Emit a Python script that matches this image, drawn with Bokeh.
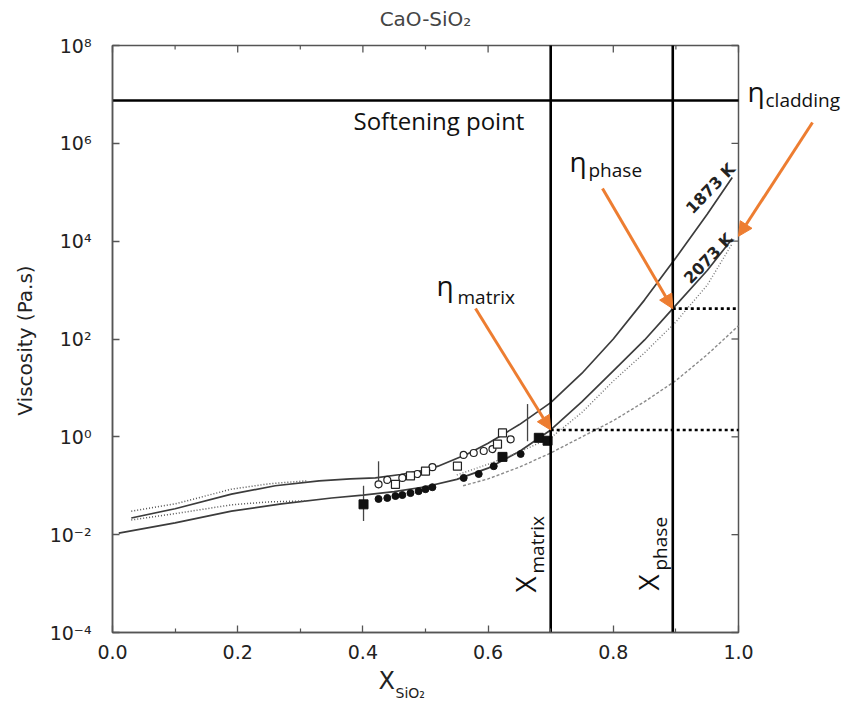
import math
from bokeh.plotting import figure
from bokeh.models import LinearAxis, LogAxis, FixedTicker, Label, Arrow, NormalHead, Range1d
from bokeh.embed import file_html
from bokeh.resources import INLINE

# ---------------- data ----------------
# model curves: x = mole fraction SiO2, values = log10(viscosity / Pa.s)
x_1873 = [0.03, 0.10, 0.19, 0.26, 0.33, 0.38, 0.42, 0.46, 0.50, 0.52, 0.567, 0.60, 0.65, 0.70, 0.75, 0.80, 0.85, 0.90, 0.95, 0.99]
lg_1873 = [-1.66, -1.47, -1.17, -1.00, -0.90, -0.86, -0.84, -0.77, -0.68, -0.60, -0.35, -0.13, 0.25, 0.70, 1.30, 2.00, 2.80, 3.66, 4.55, 5.30]

x_2073 = [0.01, 0.10, 0.19, 0.27, 0.35, 0.40, 0.45, 0.50, 0.55, 0.60, 0.65, 0.70, 0.75, 0.80, 0.85, 0.895, 0.95, 0.99]
lg_2073 = [-1.97, -1.76, -1.52, -1.37, -1.25, -1.19, -1.12, -1.02, -0.87, -0.64, -0.30, 0.14, 0.72, 1.35, 1.98, 2.62, 3.40, 4.05]

x_dot_a = [0.03, 0.10, 0.19, 0.25, 0.31]
lg_dot_a = [-1.52, -1.37, -1.07, -0.96, -0.90]

x_dot_b = [0.03, 0.10, 0.19, 0.25, 0.31]
lg_dot_b = [-1.70, -1.57, -1.39, -1.33, -1.31]

x_dot_c = [0.55, 0.60, 0.65, 0.70, 0.75, 0.80, 0.85, 0.90, 0.95, 0.99]
lg_dot_c = [-0.78, -0.56, -0.31, -0.02, 0.50, 1.14, 1.72, 2.35, 3.10, 3.95]

x_dash_d = [0.56, 0.60, 0.65, 0.70, 0.75, 0.80, 0.85, 0.90, 0.95, 1.00]
lg_dash_d = [-1.00, -0.86, -0.62, -0.33, 0.00, 0.33, 0.72, 1.15, 1.68, 2.27]

# measured points (log10 viscosity)
x_open_circ = [0.425, 0.439, 0.463, 0.487, 0.511, 0.561, 0.577, 0.593, 0.607, 0.636]
lg_open_circ = [-0.97, -0.88, -0.84, -0.76, -0.62, -0.37, -0.33, -0.29, -0.25, -0.05]
x_open_sq = [0.452, 0.476, 0.500, 0.551, 0.615, 0.623]
lg_open_sq = [-0.97, -0.80, -0.70, -0.60, -0.15, 0.08]
x_fill_circ = [0.425, 0.439, 0.452, 0.463, 0.476, 0.489, 0.500, 0.511, 0.561, 0.585, 0.609, 0.652]
lg_fill_circ = [-1.27, -1.25, -1.21, -1.19, -1.15, -1.11, -1.07, -1.03, -0.84, -0.76, -0.60, -0.35]
x_fill_sq = [0.401, 0.623, 0.681, 0.695]
lg_fill_sq = [-1.38, -0.41, -0.02, -0.08]
x_err = [0.401, 0.425, 0.663]
lg_err_lo = [-1.72, -1.05, -0.09]
lg_err_hi = [-1.00, -0.50, 0.67]

# reference lines / annotation targets
x_matrix = 0.70
x_phase = 0.895
eta_matrix = 1.38
eta_phase = 417.0
eta_softening = 7.5e6
eta_cladding = 1.26e4

x_ticks = [0.0, 0.2, 0.4, 0.6, 0.8, 1.0]
x_minor = [0.1, 0.3, 0.5, 0.7, 0.9]
x_tick_labels = ["0.0", "0.2", "0.4", "0.6", "0.8", "1.0"]
y_ticks = [1e-4, 1e-2, 1.0, 1e2, 1e4, 1e6, 1e8]
y_tick_labels = ["10\u207b\u2074", "10\u207b\u00b2", "10\u2070", "10\u00b2", "10\u2074", "10\u2076", "10\u2078"]


def pw(vals):
    return [10.0 ** v for v in vals]


# ---------------- layout (pixels) ----------------
W, H = 845, 702
BOX_L, BOX_R, BOX_T, BOX_B = 112, 738, 45, 632
X0, X1 = x_ticks[0], x_ticks[-1]
LG0, LG1 = math.log10(y_ticks[0]), math.log10(y_ticks[-1])
XPX = (BOX_R - BOX_L) / (X1 - X0)
DPX = (BOX_B - BOX_T) / (LG1 - LG0)


def at(px, py):
    """page pixel -> data coordinates (for annotations only)"""
    return X0 + (px - BOX_L) / XPX, 10 ** (LG1 - (py - BOX_T) / DPX)


ORANGE = "#ED7D31"
AX = "#555555"
TXT = "#222222"
SCAN_FONT = "DejaVu Sans"
ANN_FONT = "Open Sans"

p = figure(width=W, height=H, title=None,
           x_range=Range1d(X0 - BOX_L / XPX, X1 + (W - BOX_R) / XPX),
           y_range=Range1d(10 ** (LG0 - (H - BOX_B) / DPX), 10 ** (LG1 + BOX_T / DPX)),
           y_axis_type="log", output_backend="svg", toolbar_location=None,
           min_border=0, x_axis_location=None, y_axis_location=None)
p.xgrid.visible = False
p.ygrid.visible = False
p.outline_line_color = None
p.background_fill_color = "white"
p.border_fill_color = "white"

xb = LinearAxis(ticker=FixedTicker(ticks=x_ticks, minor_ticks=x_minor),
                major_label_overrides=dict(zip(x_ticks, x_tick_labels)),
                fixed_location=y_ticks[0], bounds=(X0, X1))
yl = LogAxis(ticker=FixedTicker(ticks=y_ticks, minor_ticks=[]),
             major_label_overrides=dict(zip(y_ticks, y_tick_labels)),
             fixed_location=X0, bounds=(y_ticks[0], y_ticks[-1]))
for ax in (xb, yl):
    ax.axis_line_color = AX
    ax.axis_line_width = 1.5
    ax.major_tick_line_color = AX
    ax.major_tick_line_width = 1.3
    ax.minor_tick_line_color = AX
    ax.minor_tick_line_width = 1.2
    ax.major_tick_in = 7
    ax.major_tick_out = 0
    ax.minor_tick_in = 4
    ax.minor_tick_out = 0
    ax.major_label_text_font = SCAN_FONT
    ax.major_label_text_color = TXT
    ax.major_label_text_font_size = "19px"
xb.major_label_standoff = 12
yl.major_label_standoff = 21
p.add_layout(xb, "below")
p.add_layout(yl, "left")

# plot box and mirrored inward ticks on top / right edges
p.quad(left=[X0], right=[X1], bottom=[y_ticks[0]], top=[y_ticks[-1]],
       fill_color=None, line_color=AX, line_width=1.5)
p.segment(x0=x_ticks, y0=[y_ticks[-1]] * len(x_ticks), x1=x_ticks,
          y1=[10 ** (LG1 - 7 / DPX)] * len(x_ticks), line_color=AX, line_width=1.3)
p.segment(x0=x_minor, y0=[y_ticks[-1]] * len(x_minor), x1=x_minor,
          y1=[10 ** (LG1 - 4 / DPX)] * len(x_minor), line_color=AX, line_width=1.2)
p.segment(x0=[X1] * len(y_ticks), y0=y_ticks, x1=[X1 - 7 / XPX] * len(y_ticks), y1=y_ticks,
          line_color=AX, line_width=1.3)

# model curves
p.line(x_1873, pw(lg_1873), line_color="#3c3c3c", line_width=1.7)
p.line(x_2073, pw(lg_2073), line_color="#3c3c3c", line_width=1.7)
p.line(x_dot_a, pw(lg_dot_a), line_color="#555555", line_width=1.5, line_dash="1 2")
p.line(x_dot_b, pw(lg_dot_b), line_color="#555555", line_width=1.5, line_dash="1 2")
p.line(x_dot_c, pw(lg_dot_c), line_color="#777777", line_width=1.4, line_dash="1 2")
p.line(x_dash_d, pw(lg_dash_d), line_color="#8a8a8a", line_width=1.4, line_dash="3 2")

# error bars and data
p.segment(x0=x_err, y0=pw(lg_err_lo), x1=x_err, y1=pw(lg_err_hi), line_color="#444444", line_width=1.3)
p.scatter(x_open_circ, pw(lg_open_circ), marker="circle", size=7, fill_color="white", line_color="#222222", line_width=1.2)
p.scatter(x_open_sq, pw(lg_open_sq), marker="square", size=8, fill_color="white", line_color="#222222", line_width=1.2)
p.scatter(x_fill_circ, pw(lg_fill_circ), marker="circle", size=7, fill_color="#111111", line_color="#111111")
p.scatter(x_fill_sq, pw(lg_fill_sq), marker="square", size=9, fill_color="#111111", line_color="#111111")

# reference lines
p.segment(x0=[x_matrix, x_phase], y0=[y_ticks[0]] * 2, x1=[x_matrix, x_phase], y1=[y_ticks[-1]] * 2,
          line_color="black", line_width=2.6)
p.segment(x0=[X0], y0=[eta_softening], x1=[X1], y1=[eta_softening], line_color="black", line_width=2.6)
p.segment(x0=[x_matrix, x_phase], y0=[eta_matrix, eta_phase], x1=[X1, X1], y1=[eta_matrix, eta_phase],
          line_color="black", line_width=2.6, line_dash="3 3")

# arrows (start points placed by pixel position, tips on the marked values)
for (sx, sy), xe, ye in [((475, 308), x_matrix, eta_matrix),
                         ((602, 188), x_phase, eta_phase),
                         ((812, 122), X1, eta_cladding)]:
    xs, ys = at(sx, sy)
    p.add_layout(Arrow(end=NormalHead(size=14, fill_color=ORANGE, line_color=ORANGE),
                       x_start=xs, y_start=ys, x_end=xe, y_end=ye,
                       line_color=ORANGE, line_width=3))


def lab(px, py, text, size, font=ANN_FONT, color="#111111", align="left", baseline="middle",
        angle=0.0, style="normal"):
    x, y = at(px, py)
    p.add_layout(Label(x=x, y=y, text=text, text_font=font, text_font_size=size,
                       text_color=color, text_align=align, text_baseline=baseline,
                       angle=angle, text_font_style=style))


# eta labels with subscripts
lab(436, 284, "\u03b7", "28px")
lab(457, 296, "matrix", "19px")
lab(569, 160, "\u03b7", "28px")
lab(588, 169, "phase", "19px")
lab(747, 90, "\u03b7", "28px")
lab(765, 99, "cladding", "19px")

# X labels on the vertical lines (rotated, reading upwards)
lab(524, 592, "X", "28px", angle=math.pi / 2)
lab(536, 573, "matrix", "19px", angle=math.pi / 2)
lab(647, 590, "X", "28px", angle=math.pi / 2)
lab(659, 570, "phase", "19px", angle=math.pi / 2)

lab(353, 120, "Softening point", "24px")

# curve labels
lab(710, 188, "1873 K", "16px", font=SCAN_FONT, color="#222222", align="center",
    angle=0.8, style="bold")
lab(708, 258, "2073 K", "16px", font=SCAN_FONT, color="#222222", align="center",
    angle=0.8, style="bold")

# title and axis labels
lab(425, 18, "CaO-SiO\u2082", "20px", font=SCAN_FONT, color="#444444", align="center")
lab(24, 340, "Viscosity (Pa.s)", "20px", font=SCAN_FONT, color=TXT, align="center",
    angle=math.pi / 2)
lab(378, 680, "X", "24px", font=SCAN_FONT, color=TXT)
lab(395, 692, "SiO\u2082", "14px", font=SCAN_FONT, color=TXT)

open("out.html", "w").write(file_html(p, INLINE))
